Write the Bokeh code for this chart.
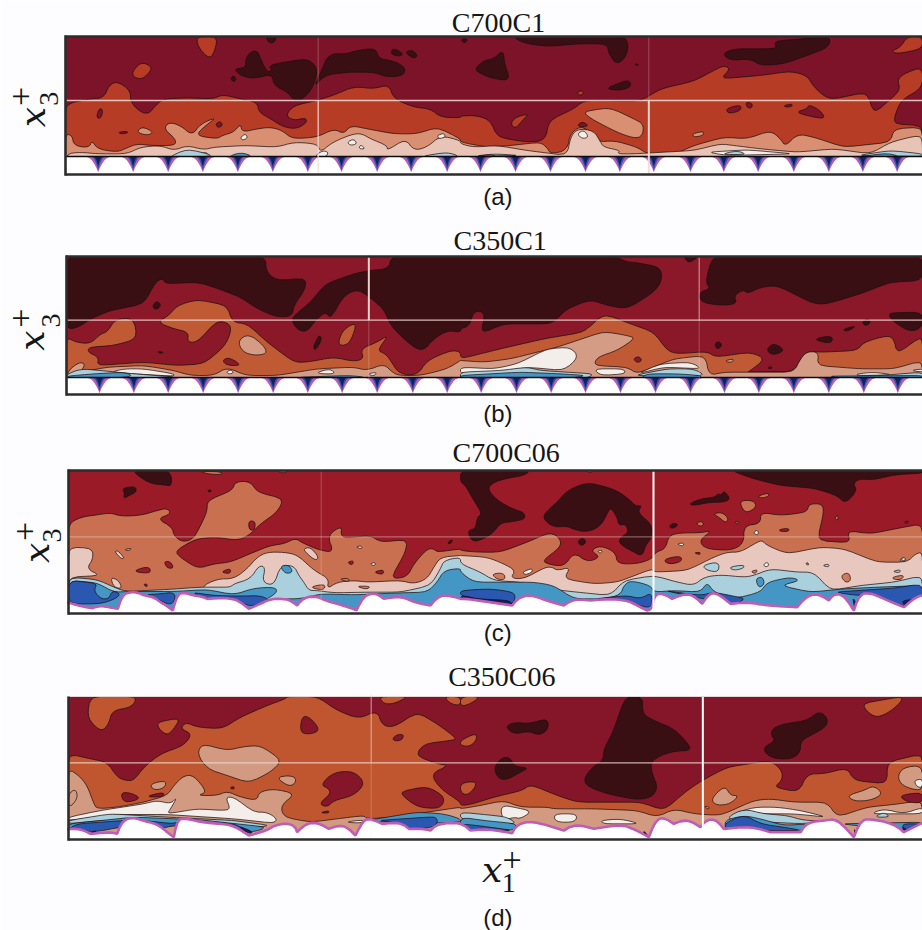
from bokeh.plotting import figure
from bokeh.models import Range1d
from bokeh.core.properties import value
from bokeh.embed import file_html
from bokeh.resources import INLINE
import math

# Each contour polygon: [left-half points, right-half points] as flat x,y lists in chart units
COL_DEEP, COL_WHITE = "#3a0f14", "#f3eeea"
COL_LBLUE, COL_BLUE, COL_ROYAL, COL_NAVY, COL_MAG = "#a9d0dc", "#4497c4", "#2a57b0", "#141f60", "#c05cb8"

TITLES = ["C700C1", "C350C1", "C700C06", "C350C06"]
TAGS = ["(a)", "(b)", "(c)", "(d)"]

# ---------- panel a ----------
A_BASE, A_ORANGE_C, A_SALMON_C, A_PALE_C = "#7d1329", "#b63c26", "#d98f72", "#e8c4b6"
A_DEEP = [
 [[700,175,735,172,735,150,745,128,770,118,782,150,800,185,815,180,805,165,850,155,920,145,945,165,950,190,935,235,905,268,878,268,862,245,820,225,815,190,760,205,720,195],[]],
 [[940,232,965,175,985,130,1040,130,1060,122,1125,112,1135,145,1175,150,1215,170,1210,195,1160,200,1120,185,1040,185,970,195],[]],
 [[1170,130,1178,112,1210,130,1195,138],[]],
 [[1212,125,1235,118,1252,135,1240,145],[]],
 [[795,78,830,78,820,97,805,97],[]],
 [[690,205,698,195,708,205,700,215],[]],
 [[],[3,85,22,85,15,97,5,95]],
 [[],[155,78,500,78,503,130,470,165,445,130,440,100,350,100,260,108,190,98]],
 [[],[42,175,70,150,100,145,128,118,132,160,150,210,100,205,60,190]],
 [[],[435,235,470,220,505,208,513,228,480,240]],
 [[],[785,130,820,115,950,115,940,92,1110,78,1105,110,1040,135,970,160,900,165,870,145,810,150]],
 [[],[522,160,535,162,530,166]],
]
A_ORANGE = [
 [[190,500,190,280,270,265,310,262,325,225,350,212,390,240,390,275,420,305,445,310,465,285,490,265,560,262,640,265,665,252,720,265,770,275,775,305,810,325,850,350,890,355,920,335,915,322,880,330,855,315,880,285,950,270,1010,250,1060,228,1120,235,1165,222,1180,265,1240,290,1290,295,1320,320,1380,322],
  [0,316,50,315,90,330,110,380,200,395,255,390,265,330,340,295,370,270,540,272,600,235,700,212,760,180,790,165,810,175,780,205,900,195,990,182,1040,195,1060,230,1105,268,1220,245,1240,310,1320,240,1310,205,1340,185,1390,170,1390,232,1320,270,1295,340,1390,345,1390,500]],
 [[590,75,650,75,645,115,630,145,605,125,590,100],[]],
 [[395,185,420,155,450,165,452,180,425,207,400,200],[]],
 [[],[1340,75,1390,75,1390,115,1310,130,1292,122,1320,110]],
 [[],[150,340,165,320,205,310,190,325,165,355]],
 [[],[350,245,365,240,370,250,355,255]],
]
A_HOLES = [
 [[287,320,297,292,308,300,300,325],[]],
 [[],[795,295,840,282,842,300,805,310]],
 [[],[855,275,875,278,875,292,860,292]],
 [[],[1005,305,1040,295,1045,282,1080,300,1095,325,1050,318]],
 [[],[970,285,995,280,995,288,975,290]],
 [[645,340,660,332,667,345,652,352],[]],
 [[355,365,380,362,382,368,358,370],[]],
 [[],[350,345,365,333,385,345,365,350]],
 [[],[320,418,345,405,375,420,345,430]],
]
A_SALMON = [
 [[190,500,190,370,215,375,220,405,265,412,275,390,290,415,350,425,380,412,410,400,450,405,525,405,525,385,490,355,505,335,540,345,575,375,600,340,650,320,615,345,585,375,650,385,665,375,700,365,720,340,725,365,770,355,810,350,845,360,875,385,950,380,1000,355,1030,370,1050,345,1100,355,1180,370,1250,370,1310,350,1380,385],
  [0,395,80,410,150,405,240,395,260,412,270,430,320,420,330,365,370,345,410,395,460,390,530,410,560,430,640,432,700,405,790,380,860,385,930,360,960,385,975,408,1010,370,1060,380,1150,410,1290,395,1300,355,1390,350,1390,500]],
 [[],[370,305,400,298,450,292,520,325,548,340,548,370,530,385,480,370,420,340,385,320]],
 [[],[695,370,730,362,728,375,700,380]],
 [[408,365,425,348,460,365,440,375],[]],
]
A_PALE = [
 [[190,500,190,430,240,425,290,430,380,430,420,410,480,405,520,420,560,405,610,418,640,410,735,405,830,410,880,395,950,400,960,425,990,400,1020,385,1060,370,1085,370,1110,385,1160,405,1160,420,1215,385,1240,420,1280,410,1320,375,1380,390],
  [0,400,40,410,110,405,200,420,320,435,330,380,350,355,400,360,420,395,430,410,480,420,470,430,520,430,700,420,780,400,820,405,900,415,1010,425,1120,415,1230,430,1290,395,1370,375,1390,385,1390,500]],
]
A_WHITES = [
 [[1040,395,1060,385,1070,400,1050,405],[]],
 [[1080,402,1095,415,1075,415],[]],
 [[720,380,735,370,742,382,725,390],[]],
 [[1310,375,1330,368,1335,380,1315,385],[]],
 [[590,430,620,425,620,435],[]],
 [[940,440,965,420,985,425,975,440],[]],
 [[],[350,370,370,358,385,380,365,385]],
 [[],[740,425,860,418,1000,430,800,435]],
]
A_LBLUE = [
 [[500,442,560,415,640,435,600,440],[]],
 [[],[780,432,830,420,860,432]],
 [[],[1190,435,1290,420,1386,430,1386,438]],
 [[1260,438,1340,425,1380,438],[]],
 [[],[40,437,100,430,180,435]],
]
A_BLUE = [
 [[680,440,720,425,760,438],[]],
 [[],[50,438,90,432,110,438]],
 [[],[1200,438,1280,428,1320,438]],
]
A_WALL = [438]
A_CUSPS = [293,398,503,607,712,817,922,1023,1130,1232,1340,1440,1545,1650,1755,1858,1960,2070,2170,2273,2380,2485,2587,2690]
A_GRID = [[953,1.2,270,492,"b"],[953,1,78,270,"f"],[1945,2,270,492,"b"],[1945,1,78,270,"f"]]

# ---------- panel b ----------
B_BASE, B_ORANGE_C, B_SALMON_C, B_PALE_C = "#8a1829", "#c05a35", "#d59c85", "#e6c6ba"
B_DEEP = [
 [[195,312,235,305,270,280,330,255,430,235,465,170,487,158,495,175,590,170,640,185,720,215,770,250,830,275,875,272,880,240,915,190,915,158,830,165,797,140,795,90,195,90],[]],
 [[1380,320,1340,315,1300,340,1265,380,1220,350,1170,300,1150,250,1075,190,1030,210,990,280,975,258,945,285,920,318,895,315,878,295,875,275,930,230,975,175,1060,145,1105,135,1165,130,1172,90,1380,90],
  [0,90,465,90,500,110,520,110,600,125,605,165,580,200,500,250,440,240,390,222,320,250,295,275,270,295,130,295,60,325,75,262,40,255,28,300,0,310]],
 [[],[755,90,1390,90,1390,165,1290,170,1200,205,1100,235,1060,235,950,180,900,185,860,205,850,192,820,210,830,235,780,240,720,230,715,200,750,190,735,170]],
 [[],[1390,260,1280,262,1300,290,1350,320,1390,305]],
 [[],[670,90,715,90,690,110,680,108]],
 [[455,240,470,226,483,240,465,254],[]],
 [[938,365,955,328,965,340,945,375],[]],
 [[470,378,490,380,480,384],[]],
 [[],[762,355,775,347,786,360,770,372]],
 [[],[917,372,940,352,975,375,935,390]],
 [[],[1060,340,1115,330,1115,352,1085,350]],
 [[],[1145,312,1190,300,1160,318]],
 [[],[1205,290,1220,278,1232,290,1215,302]],
 [[],[920,428,932,422,935,430]],
]
B_ORANGE = [
 [[195,510,195,335,225,350,270,355,300,325,320,320,345,280,400,278,410,340,340,360,265,365,262,380,295,395,290,420,430,410,530,420,610,415,670,365,690,325,690,295,650,285,590,350,560,350,565,320,520,310,470,290,505,270,530,240,590,222,680,240,695,290,740,295,800,350,880,410,920,410,1000,395,1060,408,1090,400,1080,370,1130,350,1165,328,1130,375,1155,385,1170,405,1195,445,1250,450,1280,405,1350,375,1380,378],
  [0,400,120,370,250,340,370,320,430,265,510,295,580,320,620,375,650,385,740,378,765,395,870,380,915,400,870,435,860,440,1000,438,1020,400,1040,378,1085,380,1190,375,1210,350,1280,330,1300,340,1310,385,1390,330,1390,510]],
]
B_HOLES = [
 [[665,405,685,395,725,420,680,420],[]],
 [[],[518,400,535,392,545,405,530,412]],
]
B_ORANGE2 = [[[1012,350,1030,310,1070,290,1050,350,1025,362],[]]]
B_SALMON = [
 [[195,510,195,440,235,410,255,415,240,440,320,425,430,420,520,435,570,450,640,450,680,425,735,450,830,450,950,430,1060,425,1100,435,1150,415,1175,440,1195,450,1260,450,1340,430,1380,405],
  [0,405,70,410,150,400,290,365,350,345,430,318,500,330,525,338,470,375,410,395,400,420,500,425,530,445,640,400,735,390,745,450,790,440,1000,440,1020,400,1040,378,1075,380,1070,420,1200,430,1300,430,1390,405,1390,510]],
 [[712,345,745,325,790,360,800,385,760,390,725,378],[]],
 [[],[795,405,820,400,815,410,800,410]],
]
B_WHITES = [
 [[330,440,370,430,430,430,520,445,520,452,400,445],[]],
 [[678,440,690,432,700,442,685,446],[]],
 [[950,440,990,430,1005,445,960,445],[]],
 [[1100,445,1130,440,1120,452],[]],
 [[],[0,425,100,430,170,415,260,370,330,365,355,395,310,435,200,425,120,440,0,445]],
 [[],[400,430,490,430,495,445,420,450]],
 [[],[530,445,600,415,690,410,725,430,610,425]],
 [[],[1190,445,1240,440,1300,448,1190,450]],
 [[],[1350,435,1390,430,1390,440]],
]
B_LBLUE = [
 [[195,447,240,430,300,435,350,440,400,445,530,455,340,458,195,458],[]],
 [[],[0,440,120,435,200,425,240,435,320,440,400,445,380,458,0,458]],
 [[],[520,450,620,430,700,430,735,450,650,452]],
 [[],[1140,455,1260,450,1390,440,1390,458]],
]
B_BLUE = [
 [[195,452,280,445,370,440,400,452,340,458,195,458],[]],
 [[900,455,1050,450,1100,456,900,458],[]],
 [[],[0,450,180,440,300,445,380,450,330,458,0,458]],
 [[],[560,445,650,445,720,450,720,458,540,458]],
 [[],[1100,452,1390,450,1390,458,1150,458]],
]
B_WALL = [456]
B_CUSPS = [297,400,503,608,713,818,922,1025,1130,1237,1340,1442,1548,1652,1755,1860,1965,2070,2172,2275,2380,2485,2590,2692]
B_GRID = [[1105,2,90,284,"b"],[1105,1,284,507,"f"],[2096,1,90,284,"m"],[2096,1,284,507,"f"]]

# ---------- panel c ----------
C_BASE, C_ORANGE_C, C_SALMON_C, C_PALE_C = "#9a1a28", "#c97050", "#cf7a5c", "#e8c8be"
C_DEEP = [
 [[395,100,510,100,515,152,490,148,455,145,425,130],[]],
 [[365,158,405,152,408,170,385,180,370,190,372,172],[]],
 [[],[0,100,210,100,190,120,140,128,100,140,80,160,110,195,160,222,190,230,195,250,160,258,120,262,100,290,70,310,35,320,20,285,45,280,50,245,65,235,40,195,15,150,0,140]],
 [[],[250,235,290,200,320,165,375,142,415,148,470,165,510,195,525,212,545,210,530,230,575,268,575,305,555,330,545,362,520,350,480,328,475,310,505,290,495,265,475,270,470,245,450,215,440,235,420,272,380,290,340,282,320,272,280,275,252,255]],
 [[],[350,320,365,306,378,318,365,332]],
 [[],[810,100,1390,100,1390,113,1300,118,1240,133,1195,130,1178,145,1190,165,1155,205,1130,180,1060,158,960,150,880,130]],
 [[],[685,205,720,190,765,185,770,175,785,178,790,165,810,190,790,200,750,200,700,210]],
 [[],[625,272,640,262,655,268,635,280]],
 [[622,165,630,162,632,168,624,170],[]],
 [[1340,322,1358,310,1350,326],[]],
]
C_ORANGE = [
 [[200,540,200,265,240,245,290,238,330,232,360,242,420,240,470,225,500,218,512,235,470,250,515,275,520,300,545,320,580,310,620,230,620,195,695,165,705,138,750,138,770,170,850,190,830,230,780,265,745,300,710,315,650,305,585,310,518,350,590,400,640,385,690,380,760,350,810,330,850,325,885,308,905,322,960,345,1000,350,980,300,1025,270,1020,305,1060,305,1110,300,1140,320,1220,312,1215,350,1170,430,1220,425,1240,385,1280,340,1300,340,1310,350,1380,340],
  [0,345,50,350,120,350,200,320,270,290,300,310,300,335,240,380,310,395,340,350,380,380,420,365,390,345,420,330,465,350,470,385,530,385,575,370,585,350,615,340,625,300,660,292,720,292,755,285,715,315,735,340,810,345,850,325,850,270,900,265,900,230,960,240,1040,230,1045,205,1085,205,1090,230,1070,315,1170,322,1160,285,1230,295,1330,275,1390,265,1390,540]],
 [[600,108,660,108,665,118,620,115],[]],
 [[825,105,865,105,850,114],[]],
 [[],[838,195,880,195,888,215,860,232,845,220]],
 [[],[890,182,925,172,925,182,905,188]],
 [[],[758,235,785,230,805,250,795,262,775,245]],
 [[],[708,262,725,257,730,270,715,272]],
 [[],[822,260,835,258,832,266]],
 [[],[1122,245,1135,240,1130,256]],
 [[],[375,105,400,105,390,112]],
]
C_HOLES = [
 [[745,255,765,258,762,285,745,282],[]],
 [[400,405,445,392,452,412,420,412],[]],
 [[490,378,510,378,520,398,500,398],[]],
 [[660,410,690,398,690,415],[]],
 [[1040,380,1060,375,1055,390],[]],
 [[1118,410,1150,402,1148,418],[]],
 [[428,447,440,445,440,455],[]],
 [[],[607,372,660,360,665,378,625,387]],
 [[],[700,352,720,350,718,358]],
 [[],[955,282,985,278,985,288,960,288]],
 [[],[1330,260,1345,255,1340,265]],
]
C_PALE = [
 [[200,540,200,335,275,338,278,370,258,400,300,420,200,425],[]],
 [[330,425,355,435,365,460,340,455],[]],
 [[908,340,930,335,955,365,945,375,920,355],[]],
 [[600,540,600,455,650,430,700,430,740,400,770,365,800,350,850,350,890,358,930,395,950,410,985,430,980,460,1010,440,1060,435,1100,440,1200,435,1240,445,1280,430,1300,395,1320,365,1380,360],
  [0,360,80,365,130,385,165,405,150,428,190,430,255,395,275,395,290,405,330,395,310,430,400,445,470,440,510,425,575,400,580,410,680,405,760,365,800,350,840,350,890,320,905,315,920,330,980,355,1080,335,1150,340,1250,380,1340,380,1365,355,1390,350,1390,540]],
 [[],[1315,375,1330,365,1335,378]],
 [[342,348,352,345,372,368,362,370],[]],
 [[370,342,395,338,385,346],[]],
]
C_ISLES = [
 [[],[93,415,130,412,135,432,110,432]],
 [[925,455,975,445,970,465],[]],
 [[1015,430,1045,428,1045,440],[]],
 [[1065,452,1110,452,1100,462],[]],
 [[],[1140,420,1165,410,1172,435,1155,442]],
 [[],[870,408,892,402,885,415]],
 [[],[1035,385,1042,380,1045,390]],
 [[],[1295,425,1330,418,1325,432,1300,432]],
]
C_WHITES = [
 [[],[185,410,215,398,215,410,195,418]],
 [[],[648,325,670,322,668,333]],
 [[],[1320,370,1335,365,1332,378]],
 [[],[880,290,890,283,895,295,885,298]],
 [[],[910,385,922,380,925,392,912,394]],
 [[1065,335,1082,330,1085,340],[]],
 [[1108,385,1125,380,1122,392],[]],
 [[],[410,348,425,343,422,354]],
]
C_LBLUE = [
 [[200,530,200,425,290,432,340,455,375,468,500,462,600,455,650,455,690,455,700,445,750,430,775,390,795,395,785,440,820,450,840,390,880,390,895,420,910,440,925,465,950,465,1000,472,1100,470,1200,470,1290,450,1320,400,1330,375,1380,365],
  [0,385,60,410,100,435,180,440,260,460,350,470,450,480,490,435,580,420,650,440,700,450,730,425,780,418,850,425,880,420,930,400,1010,410,1060,410,1110,465,1200,450,1300,440,1390,420,1390,530]],
 [[],[725,390,775,378,775,410,740,405]],
 [[],[805,395,850,388,850,398,820,405]],
 [[],[1085,390,1105,385,1105,395]],
 [[],[1295,408,1320,402,1318,412]],
]
C_BLUE = [
 [[200,530,200,435,270,440,295,445,340,470,380,468,520,468,620,462,700,478,760,458,825,455,830,472,790,495,840,490,900,490,960,475,1060,478,1200,472,1280,470,1310,440,1330,405,1380,398],
  [0,410,40,440,140,440,220,440,280,450,340,490,430,490,480,478,490,450,510,435,570,450,580,470,640,465,720,470,740,440,760,470,820,490,900,470,920,440,990,425,1020,435,960,450,1050,470,1150,460,1250,455,1390,450,1390,530]],
 [[838,392,865,388,878,410,855,415],[]],
 [[],[885,430,905,423,913,445,895,458]],
]
C_ROYAL = [
 [[200,435,260,440,290,445,280,465,300,490,325,490,335,465,360,475,345,490,300,505,200,505],[]],
 [[430,478,480,475,520,470,525,490,510,510,470,490],[]],
 [[570,470,640,480,720,482,780,480,810,495,750,515,700,490,620,490],[]],
 [[],[0,465,90,460,160,470,165,490,150,510,60,500,0,480]],
 [[],[400,490,500,480,540,490,575,470,575,520,520,505,470,495]],
 [[],[610,465,720,480,760,470,810,480,860,490,810,510,770,500,730,490]],
 [[],[1120,470,1300,458,1390,445,1390,490,1330,515,1250,480,1190,480]],
]
C_NAVY = [
 [[],[0,478,50,490,150,495,155,512,70,512,0,500]],
 [[430,478,470,490,490,505,455,495],[]],
 [[],[1175,480,1195,520,1185,530]],
 [[],[1320,495,1390,490,1390,480,1340,515]],
]
C_WHITE_EDGE = [
 [200,500,240,512,275,518,300,510,340,518,352,520,365,480,385,470,410,470,430,480,460,485,480,500,500,512,517,525,530,478,550,470,575,480,600,482,620,490,660,487,700,490,720,500,745,520,780,505,810,490,850,490,870,495,890,510,905,490,940,480,975,495,1010,505,1060,520,1068,525,1085,490,1105,475,1130,475,1150,490,1180,485,1210,485,1240,500,1290,510,1310,485,1340,478,1380,490],
 [20,490,155,510,175,485,215,478,255,495,310,510,340,490,390,495,440,490,500,495,520,505,560,525,575,520,582,475,610,475,635,490,670,475,700,480,725,505,745,475,770,472,810,505,860,500,920,510,1010,515,1040,480,1075,475,1105,495,1120,475,1150,478,1180,525,1195,480,1225,470,1270,490,1330,515,1365,485,1390,478],
]
C_GRID = [[962,1,105,534,"f"],[1959,2,95,540,"s"]]

# ---------- panel d ----------
D_BASE, D_ORANGE_C, D_SALMON_C, D_PALE_C = "#85162a", "#bf5630", "#d39a82", "#e8c4b8"
D_DEEP = [
 [[],[495,100,548,100,545,160,580,180,640,205,675,240,695,270,640,272,600,285,570,305,575,340,592,380,575,410,530,418,440,400,385,380,368,358,395,320,428,300,430,265,455,220]],
 [[],[138,195,165,185,205,190,255,175,265,190,258,212,235,224,205,212,165,220,145,210]],
 [[],[100,320,125,290,150,292,162,318,205,322,180,335,135,360,110,350]],
 [[],[935,205,970,190,1040,180,1075,152,1100,170,1100,195,1070,215,1020,240,1020,275,995,295,945,295,915,280,910,260,945,240,932,225]],
]
D_ORANGE = [
 [[200,540,200,280,270,295,320,305,350,350,375,360,400,360,430,320,480,280,550,255,575,220,540,205,555,185,590,200,665,205,720,170,800,135,855,115,860,100,950,100,1010,150,1075,175,1130,150,1145,195,1180,200,1250,155,1310,190,1370,235,1350,240,1270,250,1245,285,1310,310,1345,315,1290,340,1320,385,1380,425],
  [0,435,30,432,100,410,185,390,210,372,290,405,350,425,450,425,540,425,610,450,680,390,725,360,800,320,930,300,965,330,965,360,940,380,1015,395,1040,340,1090,340,1160,322,1180,360,1280,370,1280,305,1390,280,1390,540]],
 [[270,100,410,100,395,140,335,150,325,190,305,212,280,195,260,165],[]],
 [[470,185,540,172,520,205,500,225,475,205],[]],
 [[1135,100,1225,100,1180,130,1150,130],[]],
 [[1330,100,1380,100,1380,135,1350,130],[]],
 [[],[0,100,60,100,30,130,0,138]],
 [[],[0,240,45,218,50,235,30,258,0,255]],
 [[],[0,368,45,362,45,380,20,405,0,395]],
 [[],[1200,130,1325,100,1322,125,1280,160,1240,172]],
]
D_HOLES = [
 [[898,215,905,165,930,172,960,210,925,222],[]],
 [[1175,235,1190,222,1210,222,1205,238,1185,242],[]],
 [[960,372,1000,335,1060,332,1095,368,1060,405,1000,420,980,440,955,430,990,400,985,385],[]],
 [[1193,395,1280,377,1335,410,1320,445,1250,440],[]],
 [[360,395,395,398,422,415,370,428],[]],
 [[445,405,490,395,490,408,447,410],[]],
 [[690,380,700,378,702,385,692,386],[]],
 [[958,457,985,450,985,458],[]],
]
D_SALMON = [
 [[200,540,200,325,235,345,260,375,280,430,290,445,350,440,430,425,500,405,520,375,550,345,580,345,620,395,590,405,650,405,680,392,720,410,770,420,775,395,820,385,885,400,840,435,850,470,930,485,1010,475,1090,465,1100,475,1180,470,1380,440],
  [0,445,60,435,130,420,180,440,260,440,280,445,400,445,530,450,590,470,640,445,700,460,780,465,880,420,930,415,1000,425,1100,425,1130,470,1220,440,1300,432,1390,420,1390,540]],
 [[590,280,605,250,680,270,730,258,780,255,845,300,810,335,745,367,680,345,620,325],[]],
 [[828,352,860,345,885,350,885,368,865,378],[]],
 [[450,370,495,360,495,378,475,388,455,385],[]],
 [[],[752,420,770,395,795,378,810,405,835,405,810,430,770,435]],
 [[],[1160,405,1210,390,1240,375,1268,400,1230,420,1180,422]],
 [[],[1312,345,1330,320,1390,315,1390,390,1350,385,1320,370]],
 [[],[730,438,745,438,745,447]],
 [[200,400,225,385,232,410,215,435,200,435],[]],
]
D_HOLES2 = [
 [[],[1315,405,1390,395,1390,428,1340,425]],
]
D_WHITES = [
 [[200,470,300,450,430,430,470,420,510,430,530,410,510,445,500,460,590,445,670,450,690,445,675,410,700,410,760,455,800,455,830,475,820,488,700,475,500,462,350,462,200,480],[]],
 [[],[130,435,160,440,215,452,180,475,160,470,130,480,120,450]],
 [[],[280,460,350,460,345,485,285,485]],
 [[],[420,480,480,475,540,490,430,490]],
 [[],[820,460,880,440,950,440,1020,450,1100,470,1000,460,900,460,860,450]],
 [[],[1230,460,1270,445,1330,460,1390,440,1390,460]],
 [[],[1360,360,1390,355,1390,380,1370,380]],
 [[1030,485,1090,478,1085,488],[]],
]
D_LBLUE = [
 [[200,480,330,460,500,470,700,480,810,495,770,500,500,480,300,480,200,490],[]],
 [[],[0,455,100,465,140,470,170,490,60,490,0,475]],
 [[],[800,470,850,445,910,460,980,465,1030,480,1090,480,1030,490,820,480]],
 [[],[1240,470,1270,455,1290,470]],
]
D_BLUE = [
 [[200,490,400,470,600,478,800,500,760,515,500,490,200,505],[]],
 [[],[0,470,70,480,170,490,160,510,0,505]],
 [[],[790,480,850,465,900,475,970,495,1040,490,1030,510,900,510,800,510]],
 [[1100,480,1250,455,1330,460,1380,475,1380,485,1220,490],[]],
 [[],[1140,490,1390,485,1390,500,1330,510]],
]
D_ROYAL = [
 [[200,505,230,490,400,478,430,480,520,490,540,480,700,490,720,500,760,515,640,500,520,495,480,505,440,490,360,500,280,515,200,505],[]],
 [[1130,480,1280,470,1310,470,1310,495,1270,505,1230,505,1180,485],[]],
 [[],[0,490,50,495,160,510,60,510,0,510]],
 [[],[790,490,850,462,900,490,1000,505,1020,510,900,510,800,510]],
 [[],[1320,490,1390,490,1390,505,1340,515]],
]
D_NAVY = [
 [[440,485,470,500,490,510,450,500],[]],
 [[710,495,760,515,745,520],[]],
 [[270,515,290,510,275,520],[]],
 [[],[550,510,565,530,560,535,550,520]],
 [[],[1180,500,1195,535,1185,530]],
 [[],[1320,495,1350,515,1340,520]],
]
D_WHITE_EDGE = [
 [200,505,240,505,270,520,330,515,350,520,365,480,400,470,430,482,470,490,500,515,520,530,530,480,550,472,600,485,660,490,700,495,745,525,800,510,830,490,880,490,890,515,915,490,950,485,985,505,1030,490,1065,525,1085,485,1105,472,1145,490,1200,485,1225,505,1270,505,1290,510,1310,490,1380,485],
 [30,510,80,505,155,518,170,490,220,482,310,510,345,490,400,505,480,492,520,505,565,530,585,480,610,470,640,490,680,475,720,500,735,480,765,475,790,505,870,498,930,515,1020,515,1040,485,1095,480,1130,475,1180,530,1200,480,1230,475,1300,490,1330,515,1390,485],
]
D_GRID = [[1112,1,100,307,"m"],[1112,1,307,537,"f"],[2107,2,100,545,"s"]]

SHIFT = 1380
ZR = 2766
CAP = 14.0
DARK = "#2c2c2c"
SERIF = "Liberation Serif"
MATH = "DejaVu Serif"
SANS = "Liberation Sans"

p = figure(width=922, height=930, x_range=Range1d(0, 922), y_range=Range1d(930, 0),
           x_axis_location=None, y_axis_location=None, output_backend="svg", toolbar_location=None,
           min_border=0, background_fill_color="#fdfdff", border_fill_color="#fdfdff")
p.outline_line_color = None
p.xgrid.visible = False
p.ygrid.visible = False


def corner_cut(pts, rounds=2):
    """Round polygon corners with a bounded cut, so long straight edges stay in place."""
    for _ in range(rounds):
        out = []
        n = len(pts)
        for i in range(n):
            a, b, c = pts[i - 1], pts[i], pts[(i + 1) % n]
            for q in (a, c):
                d = math.hypot(q[0] - b[0], q[1] - b[1]) or 1.0
                t = min(0.25, CAP / d)
                out.append((b[0] + (q[0] - b[0]) * t, b[1] + (q[1] - b[1]) * t))
        pts = out
    return pts


def scallop(pts, rounds=2):
    """Round the crests of an open wall outline and leave its downward cusps sharp."""
    for _ in range(rounds):
        out = [pts[0]]
        for i in range(1, len(pts) - 1):
            a, b, c = pts[i - 1], pts[i], pts[i + 1]
            if b[1] >= a[1] and b[1] >= c[1]:
                out.append(b)
                continue
            for q in (a, c):
                d = math.hypot(q[0] - b[0], q[1] - b[1]) or 1.0
                t = min(0.3, 18.0 / d)
                out.append((b[0] + (q[0] - b[0]) * t, b[1] + (q[1] - b[1]) * t))
        out.append(pts[-1])
        pts = out
    return pts


def to_points(poly):
    left, right = poly
    pts = [(left[i], left[i + 1]) for i in range(0, len(left), 2)]
    pts += [(right[i] + SHIFT, right[i + 1]) for i in range(0, len(right), 2)]
    return pts


class Panel:
    def __init__(self, y0, zl, zt, zb):
        self.y0, self.zl, self.zt, self.zb = y0, zl, zt, zb

    def X(self, v):
        return v / 3

    def Y(self, v):
        return self.y0 + v / 3

    def clamp(self, q):
        return (min(max(q[0], self.zl), ZR), min(max(q[1], self.zt), self.zb))

    def layer(self, polys, color, line=0.8):
        xs, ys = [], []
        for poly in polys:
            pts = corner_cut([self.clamp(q) for q in to_points(poly)])
            pts = [self.clamp(q) for q in pts]
            xs.append([self.X(q[0]) for q in pts])
            ys.append([self.Y(q[1]) for q in pts])
        if xs:
            p.patches(xs, ys, fill_color=color, line_color="#1c0d0d", line_width=line, line_alpha=0.9)

    def base(self, color):
        p.quad(left=[self.X(self.zl)], right=[922], top=[self.Y(self.zt)], bottom=[self.Y(self.zb)],
               fill_color=color, line_color=None)

    def cusp_wall(self, wall, cusps):
        p.quad(left=[self.X(self.zl)], right=[922], top=[self.Y(wall)], bottom=[self.Y(self.zb)],
               fill_color="#ffffff", line_color=None)
        for color, w, depth, power in ((COL_MAG, 46, 47, 2.6), (COL_ROYAL, 26, 42, 2.6), (COL_NAVY, 15, 30, 2.2)):
            xs, ys = [], []
            for v in cusps:
                a, b = [], []
                for k in range(-12, 13):
                    t = k / 12
                    a.append(self.X(v + w * t))
                    b.append(self.Y(wall + depth * (1 - abs(t)) ** power))
                xs.append(a)
                ys.append(b)
            p.patches(xs, ys, fill_color=color, line_color=None)
        p.line([self.X(self.zl), 922], [self.Y(wall)] * 2, line_color="#0c0c10", line_width=1.3)

    def edge_wall(self, edge):
        pts = scallop(to_points(tuple(edge)))
        xs = [self.X(q[0]) for q in pts]
        ys = [self.Y(q[1]) for q in pts]
        p.patch([self.X(self.zl)] + xs + [922, 922, self.X(self.zl)],
                [ys[0]] + ys + [ys[-1], self.Y(self.zb), self.Y(self.zb)], fill_color="#ffffff", line_color=None)
        p.line(xs, ys, line_color=COL_MAG, line_width=2.6)

    def grid(self, yline, rows, h_alpha):
        styles = {"b": ("#f1dcd6", 0.95), "f": ("#f1dcd6", 0.28), "m": ("#f1dcd6", 0.7), "s": ("#ffffff", 1.0)}
        p.line([self.X(self.zl), 922], [self.Y(yline)] * 2, line_color="#f1dcd6", line_width=1.3, line_alpha=h_alpha)
        for x, w, a, b, st in rows:
            col, al = styles[st]
            p.line([self.X(x)] * 2, [self.Y(a), self.Y(b)], line_color=col, line_width=w, line_alpha=al)

    def frame(self, dark_top=True):
        xl, yt, yb = self.X(self.zl), self.Y(self.zt), self.Y(self.zb)
        p.line([xl, 922], [yt, yt], line_color=DARK if dark_top else "#e6d8d6", line_width=2.6 if dark_top else 1.2)
        p.line([xl, 922], [yb, yb], line_color=DARK, line_width=2.6)
        p.line([xl, xl], [yt - (1.2 if dark_top else 0), yb + 1.2], line_color=DARK, line_width=2.6)

    def text(self, x, y, s, font, size, angle=0.0, style="normal"):
        p.text([self.X(x)], [self.Y(y)], text=[s], text_font=value(font), text_font_size=f"{size}px",
               text_font_style=style, angle=angle, text_align="center", text_baseline="middle", text_color="#161616")

    def ylabel(self, px, py, tx, ty, qx, qy):
        self.text(px - 12, py, "x", MATH, 36, math.pi / 2, "italic")
        self.text(tx, ty, "3", SERIF, 28, math.pi / 2)
        self.text(qx, qy, "+", SERIF, 34, math.pi / 2)


# panel a
a = Panel(10, 195, 78, 492)
a.base(A_BASE)
a.layer(A_ORANGE, A_ORANGE_C)
a.layer(A_HOLES, A_BASE)
a.layer(A_DEEP, COL_DEEP)
a.layer(A_SALMON, A_SALMON_C)
a.layer(A_PALE, A_PALE_C)
a.layer(A_WHITES, COL_WHITE)
a.layer(A_LBLUE, COL_LBLUE)
a.layer(A_BLUE, COL_BLUE)
a.cusp_wall(A_WALL[0], A_CUSPS)
a.grid(270, A_GRID, 0.85)
a.frame()
a.text(1494, 35, TITLES[0], SERIF, 28)
a.text(1492, 558, TAGS[0], SANS, 24)
a.ylabel(108, 320, 145, 265, 62, 258)

# panel b
b = Panel(225, 198, 93, 507)
b.base(B_BASE)
b.layer(B_DEEP, COL_DEEP)
b.layer(B_ORANGE, B_ORANGE_C)
b.layer(B_HOLES, B_BASE)
b.layer(B_ORANGE2, B_ORANGE_C)
b.layer(B_SALMON, B_SALMON_C)
b.layer(B_WHITES, COL_WHITE)
b.layer(B_LBLUE, COL_LBLUE)
b.layer(B_BLUE, COL_BLUE)
b.cusp_wall(B_WALL[0], B_CUSPS)
b.grid(284, B_GRID, 0.85)
b.frame()
b.text(1499, 45, TITLES[1], SERIF, 28)
b.text(1492, 565, TAGS[1], SANS, 24)
b.ylabel(105, 345, 150, 285, 60, 278)

# panel c
c = Panel(435, 204, 105, 534)
c.base(C_BASE)
c.layer(C_ORANGE, C_ORANGE_C)
c.layer(C_DEEP, COL_DEEP)
c.layer(C_HOLES, C_BASE)
c.layer(C_PALE, C_PALE_C)
c.layer(C_ISLES, C_SALMON_C)
c.layer(C_WHITES, COL_WHITE)
c.layer(C_LBLUE, COL_LBLUE)
c.layer(C_BLUE, COL_BLUE)
c.layer(C_ROYAL, COL_ROYAL)
c.layer(C_NAVY, COL_NAVY)
c.edge_wall(C_WHITE_EDGE)
c.grid(304, C_GRID, 0.4)
c.frame()
c.text(1517, 50, TITLES[2], SERIF, 28)
c.text(1492, 590, TAGS[2], SANS, 24)
c.ylabel(120, 352, 155, 300, 73, 288)

# panel d
d = Panel(660, 204, 108, 537)
d.base(D_BASE)
d.layer(D_ORANGE, D_ORANGE_C)
d.layer(D_HOLES, D_BASE)
d.layer(D_DEEP, COL_DEEP)
d.layer(D_SALMON, D_SALMON_C)
d.layer(D_HOLES2, D_BASE)
d.layer(D_WHITES, COL_WHITE)
d.layer(D_LBLUE, COL_LBLUE)
d.layer(D_BLUE, COL_BLUE)
d.layer(D_ROYAL, COL_ROYAL)
d.layer(D_NAVY, COL_NAVY)
d.edge_wall(D_WHITE_EDGE)
d.grid(307, D_GRID, 0.8)
d.frame(dark_top=False)
d.text(1504, 48, TITLES[3], SERIF, 28)
d.text(1492, 770, TAGS[3], SANS, 24)
d.text(1475, 626, "x", MATH, 36, 0.0, "italic")
d.text(1525, 668, "1", SERIF, 28)
d.text(1535, 598, "+", SERIF, 34)

open("out.html", "w").write(file_html(p, INLINE))
